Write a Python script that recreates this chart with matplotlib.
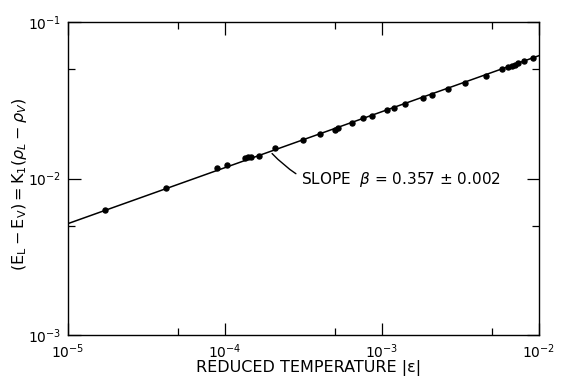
import matplotlib
matplotlib.use("Agg")
import matplotlib.pyplot as plt
from matplotlib.ticker import LogLocator, NullFormatter

# reduced temperature |eps| and order parameter
eps = [1.71e-5, 4.21e-5, 8.85e-5, 1.03e-4, 1.34e-4, 1.40e-4, 1.47e-4, 1.65e-4,
       2.09e-4, 3.16e-4, 4.03e-4, 5.02e-4, 5.25e-4, 6.41e-4, 7.60e-4, 8.69e-4,
       1.08e-3, 1.20e-3, 1.41e-3, 1.82e-3, 2.08e-3, 2.64e-3, 3.38e-3, 4.58e-3,
       5.78e-3, 6.37e-3, 6.70e-3, 7.03e-3, 7.38e-3, 8.02e-3, 9.10e-3]
order = [6.27e-3, 8.73e-3, 1.16e-2, 1.22e-2, 1.36e-2, 1.37e-2, 1.38e-2, 1.40e-2,
         1.56e-2, 1.77e-2, 1.93e-2, 2.04e-2, 2.09e-2, 2.25e-2, 2.42e-2, 2.51e-2,
         2.72e-2, 2.83e-2, 2.99e-2, 3.26e-2, 3.43e-2, 3.73e-2, 4.08e-2, 4.52e-2,
         4.97e-2, 5.15e-2, 5.24e-2, 5.33e-2, 5.43e-2, 5.60e-2, 5.85e-2]

# power law fit  K1 * |eps|**beta
fit_amp = 0.3144
fit_beta = 0.357
fit_x = [1e-5, 1e-2]


def main():
    fig = plt.figure(figsize=(5.62, 3.83), dpi=100)
    ax = fig.add_axes([0.121, 0.1245, 0.838, 0.8188])

    fit_y = [fit_amp * x ** fit_beta for x in fit_x]
    ax.plot(fit_x, fit_y, color="black", lw=1.1)
    ax.plot(eps, order, "o", color="black", ms=3.6)

    ax.set_xscale("log")
    ax.set_yscale("log")
    ax.set_xlim(1e-5, 1e-2)
    ax.set_ylim(1e-3, 1e-1)

    for axis in (ax.xaxis, ax.yaxis):
        axis.set_major_locator(LogLocator(base=10))
        axis.set_minor_locator(LogLocator(base=10, subs=[5.0]))
        axis.set_minor_formatter(NullFormatter())

    ax.tick_params(which="both", direction="in", top=True, right=True,
                   width=0.9, labelsize=10)
    ax.tick_params(which="major", length=9, pad=5)
    ax.tick_params(which="minor", length=5)
    for s in ax.spines.values():
        s.set_linewidth(1.0)

    ax.set_xlabel("REDUCED TEMPERATURE |\u03b5|", fontsize=11.5)
    ax.xaxis.set_label_coords(0.51, -0.078)
    ax.set_ylabel(r"$(\mathrm{E_L}-\mathrm{E_V})=\mathrm{K_1}(\rho_L-\rho_V)$",
                  fontsize=11.5)
    ax.yaxis.set_label_coords(-0.082, 0.48)

    # slope annotation with curved leader
    x0 = 1.94e-4
    ax.annotate(r"SLOPE  $\beta$ = 0.357 $\pm$ 0.002",
                xy=(x0, fit_amp * x0 ** fit_beta), xytext=(3.05e-4, 9.8e-3),
                fontsize=11, va="center", ha="left",
                arrowprops=dict(arrowstyle="-", color="black", lw=1.0,
                                shrinkA=2, shrinkB=2,
                                connectionstyle="arc3,rad=-0.35"))

    fig.savefig("out.png", dpi=100)


if __name__ == "__main__":
    main()
